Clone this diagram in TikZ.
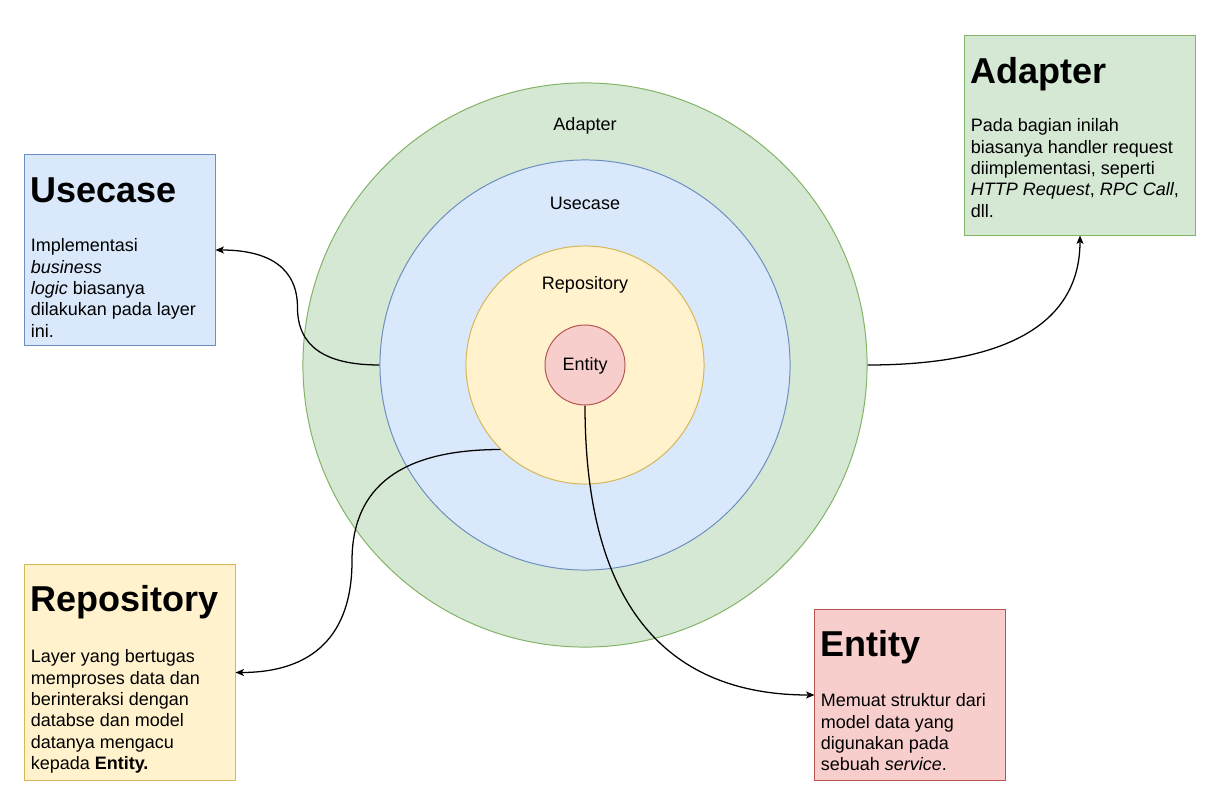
\documentclass[tikz,border=0pt]{standalone}
\usepackage{fontspec}
\setmainfont{Liberation Sans}
\usepackage{tikz}
\usetikzlibrary{calc}
\usetikzlibrary{positioning}
\usetikzlibrary{arrows.meta}
\usetikzlibrary{shapes}

\definecolor{adapterfill}{HTML}{D5E8D4}
\definecolor{adapterline}{HTML}{82B366}
\definecolor{usecasefill}{HTML}{DAE8FC}
\definecolor{usecaseline}{HTML}{6C8EBF}
\definecolor{repofill}{HTML}{FFF2CC}
\definecolor{repoline}{HTML}{D6B656}
\definecolor{entityfill}{HTML}{F8CECC}
\definecolor{entityline}{HTML}{B85450}

\tikzset{
  layer/.style={circle, draw, line width=0.7pt, inner sep=0pt},
  layerlabel/.style={font=\fontsize{12.8pt}{15.2pt}\selectfont, inner sep=0pt, anchor=base},
  infobox/.style={rectangle, draw, line width=0.7pt, inner sep=0pt},
  infohead/.style={font=\fontsize{25.6pt}{30pt}\selectfont\bfseries, inner sep=0pt, anchor=base west},
  infotext/.style={font=\fontsize{12.8pt}{15.2pt}\selectfont, align=left, inner sep=0pt, anchor=north west},
  link/.style={-{Stealth[length=6pt,width=5pt,inset=1.5pt]}, line width=0.9pt},
}

\begin{document}
\begin{tikzpicture}[x=0.025cm,y=-0.025cm]
  \useasboundingbox[fill=white] (0,0) rectangle (1221,806);

  % the layers
  \node[layer, fill=adapterfill, draw=adapterline, minimum size=14.1cm] (adaptercircle) at (585,365) {};
  \node[layer, fill=usecasefill, draw=usecaseline, minimum size=10.25cm] (usecasecircle) at (585,365) {};
  \node[layer, fill=repofill, draw=repoline, minimum size=5.95cm] (repocircle) at (585,365) {};
  \node[layer, fill=entityfill, draw=entityline, minimum size=2cm] (entitycircle) at (585,365) {};

  \node[layerlabel] (adapterlabel) at (585,131) {Adapter};
  \node[layerlabel] (usecaselabel) at (585,210) {Usecase};
  \node[layerlabel] (repolabel) at (585,290) {Repository};
  \node[layerlabel] (entitylabel) at (585,370) {Entity};

  % the notes
  \node[infobox, fill=usecasefill, draw=usecaseline, minimum width=4.75cm, minimum height=4.75cm] (usecasebox) at (120,250) {};
  \node[infohead] (usecasehead) at ($(usecasebox.north west)+(6,48)$) {Usecase};
  \node[infotext] (usecasetext) at ($(usecasebox.north west)+(6,84)$)
    {Implementasi\\\textit{business}\\\textit{logic} biasanya\\dilakukan pada layer\\ini.};

  \node[infobox, fill=adapterfill, draw=adapterline, minimum width=5.75cm, minimum height=4.975cm] (adapterbox) at (1080,135.5) {};
  \node[infohead] (adapterhead) at ($(adapterbox.north west)+(6,48)$) {Adapter};
  \node[infotext] (adaptertext) at ($(adapterbox.north west)+(6,83)$)
    {Pada bagian inilah\\biasanya handler request\\diimplementasi, seperti\\\textit{HTTP Request}, \textit{RPC Call},\\dll.};

  \node[infobox, fill=repofill, draw=repoline, minimum width=5.25cm, minimum height=5.375cm] (repobox) at (130,672.5) {};
  \node[infohead] (repohead) at ($(repobox.north west)+(6,47)$) {Repository};
  \node[infotext] (repotext) at ($(repobox.north west)+(6,85)$)
    {Layer yang bertugas\\memproses data dan\\berinteraksi dengan\\databse dan model\\datanya mengacu\\kepada \textbf{Entity.}};

  \node[infobox, fill=entityfill, draw=entityline, minimum width=4.75cm, minimum height=4.25cm] (entitybox) at (910,695) {};
  \node[infohead] (entityhead) at ($(entitybox.north west)+(6,47)$) {Entity};
  \node[infotext] (entitytext) at ($(entitybox.north west)+(6,84)$)
    {Memuat struktur dari\\model data yang\\digunakan pada\\sebuah \textit{service}.};

  % connectors
  \coordinate (usecasebend) at ($(usecasecircle.west)!0.5!(usecasebox.east)$);
  \coordinate (repobend) at ($(repocircle.225)!0.5!(repobox.east)+(-16,0)$);
  \draw[link] (usecasecircle.west) to[out=180, in=-90, out distance=1.375cm, in distance=0.96cm] (usecasebend)
    to[out=90, in=0, out distance=0.96cm, in distance=1.375cm] (usecasebox.east);
  \draw[link] (adaptercircle.east) to[out=0, in=-90, out distance=3.53cm, in distance=2.17cm] (adapterbox.south);
  \draw[link] (repocircle.225) to[out=180, in=90, out distance=2.48cm, in distance=1.86cm] (repobend)
    to[out=-90, in=0, out distance=1.86cm, in distance=1.93cm] (repobox.east);
  \draw[link] (entitycircle.south) to[out=-90, in=180, out distance=4.83cm, in distance=3.83cm] (entitybox.west);
\end{tikzpicture}
\end{document}
